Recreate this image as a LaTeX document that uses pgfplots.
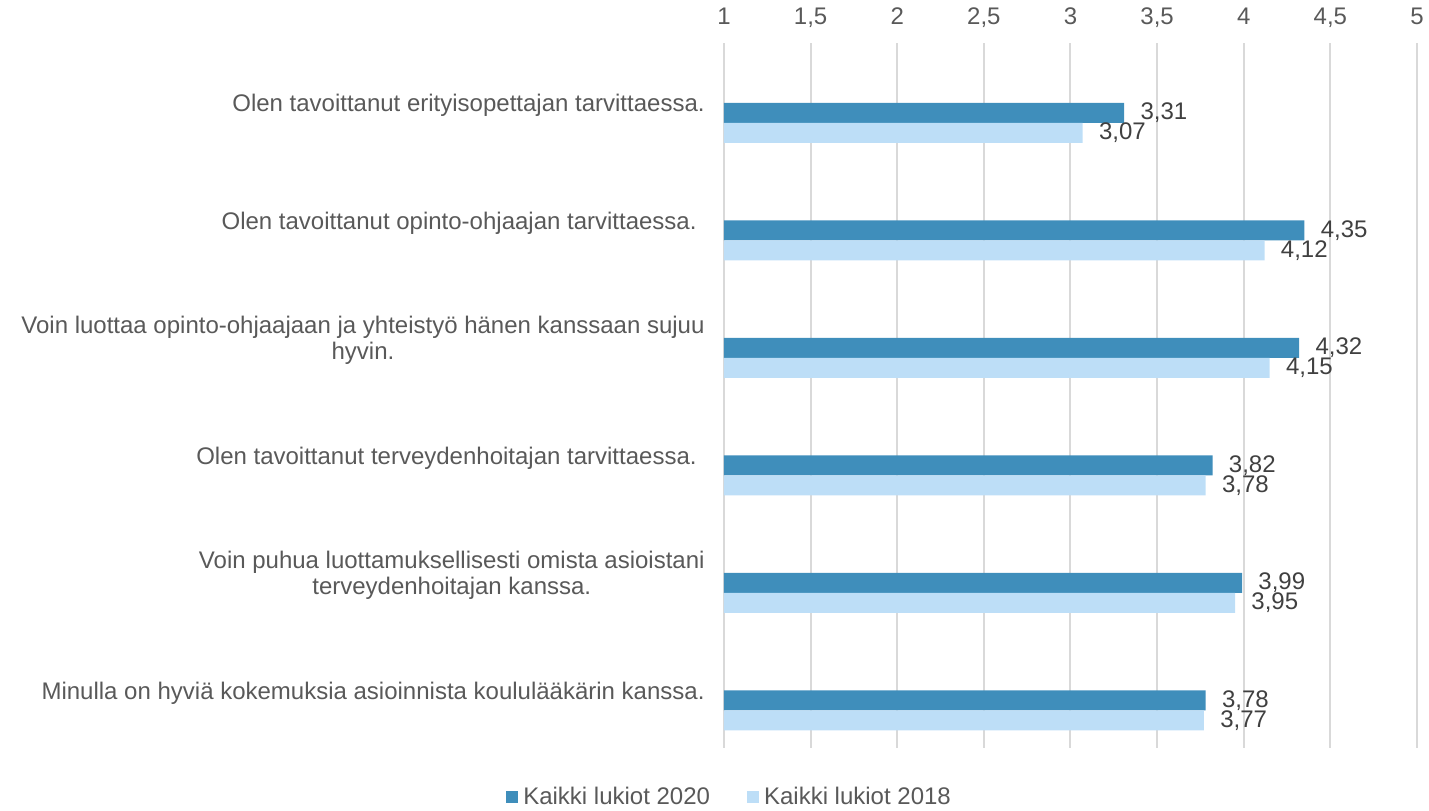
\documentclass[border=0pt]{standalone}
\usepackage{fontspec}
\setmainfont{Liberation Sans}
\usepackage{pgfplots}
\pgfplotsset{compat=1.18}
\definecolor{dark}{HTML}{3F8EBB}
\definecolor{light}{HTML}{BDDEF7}
\definecolor{txt}{HTML}{595959}
\definecolor{val}{HTML}{404040}
\definecolor{gridc}{HTML}{D9D9D9}
\newcommand{\fs}{\fontsize{12}{13}\selectfont}

\begin{document}
\begin{tikzpicture}
\begin{axis}[
  scale only axis, width=346.5pt, height=352.5pt,
  xbar, bar width=10pt,
  xmin=1, xmax=5, ymin=-0.5, ymax=5.5,
  xtick={1,1.5,2,2.5,3,3.5,4,4.5,5},
  xticklabel pos=upper,
  ytick={0,1,2,3,4,5},
  yticklabels={
    {Minulla on hyviä kokemuksia asioinnista koululääkärin kanssa.},
    {Voin puhua luottamuksellisesti omista asioistani\\terveydenhoitajan kanssa.},
    {Olen tavoittanut terveydenhoitajan tarvittaessa.\hspace{4pt}},
    {Voin luottaa opinto-ohjaajaan ja yhteistyö hänen kanssaan sujuu\hspace{3pt}\\hyvin.},
    {Olen tavoittanut opinto-ohjaajan tarvittaessa.\hspace{4pt}},
    {Olen tavoittanut erityisopettajan tarvittaessa.}},
  axis line style={draw=none},
  major tick length=0pt,
  xmajorgrids, grid style={gridc, line width=1pt},
  xticklabel style={anchor=base, yshift=9pt, inner sep=0pt, font=\fs, text=txt},
  yticklabel style={align=center, inner sep=0pt, xshift=-9.5pt, yshift=-2pt, font=\fs, text=txt},
  /pgf/number format/use comma,
  /pgf/number format/assume math mode=true,
  nodes near coords={\pgfmathprintnumber[fixed,fixed zerofill,precision=2,use comma]{\pgfplotspointmeta}},
  nodes near coords style={anchor=west, inner sep=0pt, xshift=8pt, font=\fs, text=val},
  legend style={at={(axis description cs:0.0095,-0.0695)}, anchor=center, draw=none,
    font=\fs, text=txt, legend columns=-1,
    /tikz/every even column/.append style={column sep=16.5pt}},
  legend image code/.code={\fill[#1] (0pt,-3pt) rectangle (6pt,3pt); \path (6.5pt,0pt);},
]
\addplot[fill=dark, draw=none, bar shift=-5.6pt] coordinates {
  (3.31,5) (4.35,4) (4.32,3) (3.82,2) (3.99,1) (3.78,0)};
\addplot[fill=light, draw=none, bar shift=-15.6pt] coordinates {
  (3.07,5) (4.12,4) (4.15,3) (3.78,2) (3.95,1) (3.77,0)};
\legend{Kaikki lukiot 2020,Kaikki lukiot 2018}
\coordinate (tl) at (axis description cs:0,1);
\end{axis}
\pgfresetboundingbox
\path ([shift={(-362pt,21.5pt)}]tl) rectangle ++(714.5pt,-405pt);
\end{tikzpicture}
\end{document}
